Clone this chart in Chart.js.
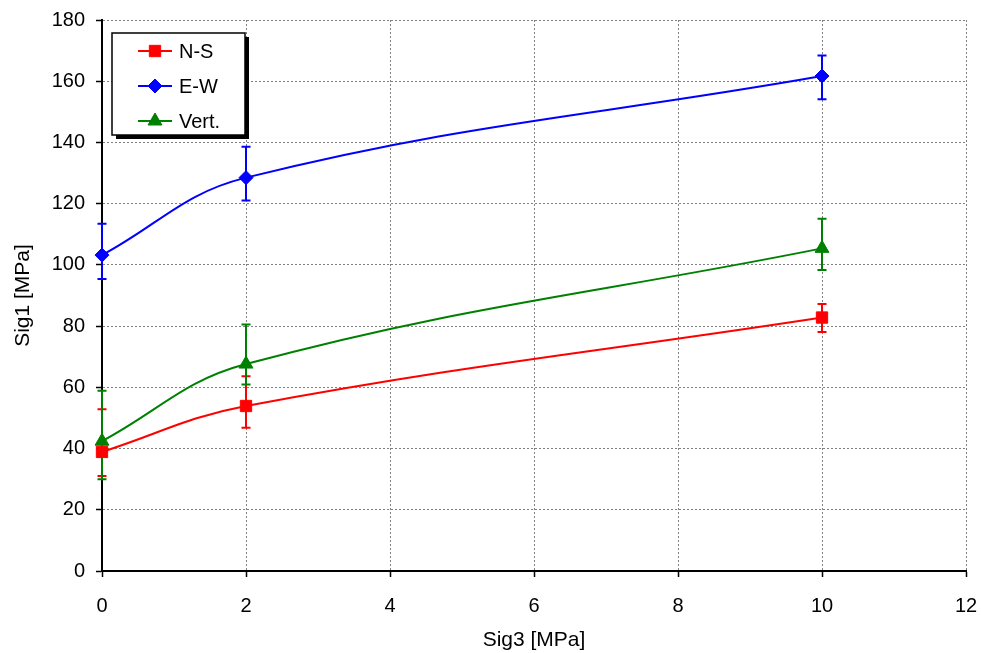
<!DOCTYPE html>
<html>
<head>
<meta charset="utf-8">
<script src="https://cdn.jsdelivr.net/npm/chart.js@4/dist/chart.umd.min.js"></script>
<style>
  html, body { margin: 0; padding: 0; background: #fff; overflow: hidden; }
  canvas { display: block; }
</style>
</head>
<body>
<canvas id="myChart" width="981" height="653"></canvas>
<script>
// hodnoty odčítané z grafu
const sig3 = [0, 2, 10];

const nsVals = [38.9, 53.9, 82.8];
const nsHi   = [52.8, 63.6, 87.2];
const nsLo   = [31.0, 46.8, 78.1];

const ewVals = [103.2, 128.5, 161.7];
const ewHi   = [113.4, 138.6, 168.4];
const ewLo   = [95.4, 121.0, 154.1];

const vertVals = [42.4, 67.6, 105.4];
const vertHi   = [58.9, 80.5, 115.1];
const vertLo   = [30.0, 60.9, 98.3];

const xTicks = [0, 2, 4, 6, 8, 10, 12];
const yTicks = [0, 20, 40, 60, 80, 100, 120, 140, 160, 180];

const fontName = "'Liberation Sans', Arial, sans-serif";

function body(xs, ys) {
    return xs.map((x, i) => ({ x: x, y: ys[i] }));
}

const series = [
    { label: "N-S",   vals: nsVals,   hi: nsHi,   lo: nsLo,   color: "#ff0000", style: "rect",    r: 8 },
    { label: "E-W",   vals: ewVals,   hi: ewHi,   lo: ewLo,   color: "#0000ff", style: "rectRot", r: 7 },
    { label: "Vert.", vals: vertVals, hi: vertHi, lo: vertLo, color: "#008000", style: "triangle", r: 8 }
];

// chybové úsečky
const errorBars = {
    id: "errorBars",
    beforeDatasetsDraw(chart) {
        const ctx = chart.ctx;
        const xs = chart.scales.x, ys = chart.scales.y;
        ctx.save();
        ctx.lineWidth = 2;
        series.forEach(s => {
            ctx.strokeStyle = s.color;
            sig3.forEach((x, i) => {
                const px = xs.getPixelForValue(x);
                const top = ys.getPixelForValue(s.hi[i]);
                const bot = ys.getPixelForValue(s.lo[i]);
                ctx.beginPath();
                ctx.moveTo(px, top); ctx.lineTo(px, bot);
                ctx.moveTo(px - 4.5, top); ctx.lineTo(px + 4.5, top);
                ctx.moveTo(px - 4.5, bot); ctx.lineTo(px + 4.5, bot);
                ctx.stroke();
            });
        });
        ctx.restore();
    }
};

// legenda v ráme so stieňom
const boxLegend = {
    id: "boxLegend",
    afterDraw(chart) {
        const ctx = chart.ctx;
        const x0 = 112, y0 = 33, w = 133, h = 102;
        ctx.save();
        ctx.fillStyle = "#000";
        ctx.fillRect(x0 + 4, y0 + 4, w, h);
        ctx.fillStyle = "#fff";
        ctx.fillRect(x0, y0, w, h);
        ctx.strokeStyle = "#000";
        ctx.lineWidth = 1.5;
        ctx.strokeRect(x0, y0, w, h);
        ctx.font = "20px " + fontName;
        ctx.textBaseline = "middle";
        series.forEach((s, i) => {
            const y = 51 + i * 35;
            ctx.strokeStyle = s.color;
            ctx.lineWidth = 2;
            ctx.beginPath();
            ctx.moveTo(138, y); ctx.lineTo(172, y);
            ctx.stroke();
            ctx.fillStyle = s.color;
            ctx.lineWidth = 1;
            Chart.helpers.drawPoint(ctx, { pointStyle: s.style, radius: s.r, rotation: 0, borderWidth: 1 }, 155, y);
            ctx.fillStyle = "#000";
            ctx.fillText(s.label, 179, y + 1);
        });
        ctx.restore();
    }
};

const gridColor = c => (c.tick && c.tick.value === 0 ? "rgba(0,0,0,0)" : "#808080");

const ctx = document.getElementById("myChart").getContext("2d");
const myChart = new Chart(ctx, {
    type: "scatter",
    data: {
        datasets: series.map(s => ({
            label: s.label,
            data: body(sig3, s.vals),
            showLine: true,
            tension: 0.4,
            borderColor: s.color,
            backgroundColor: s.color,
            borderWidth: 2,
            pointStyle: s.style,
            pointRadius: s.r,
            pointBorderWidth: 1,
            clip: false,
            fill: false
        }))
    },
    options: {
        responsive: false,
        devicePixelRatio: 1,
        animation: false,
        layout: { padding: { left: 0, right: 15, top: 20, bottom: 0 } },
        plugins: {
            legend: { display: false },
            tooltip: { enabled: false }
        },
        scales: {
            x: {
                type: "linear",
                min: 0, max: 12,
                afterBuildTicks: sc => { sc.ticks = xTicks.map(v => ({ value: v })); },
                afterFit: sc => { sc.height = 82; sc.paddingLeft = 0; sc.paddingRight = 0; },
                ticks: { color: "#000", font: { family: fontName, size: 20 }, padding: 17, maxRotation: 0 },
                grid: { color: gridColor, lineWidth: 1, tickLength: 6, tickColor: "#000", tickWidth: 1.5, tickBorderDash: [] },
                border: { color: "#000", width: 2, dash: [2, 2] },
                title: { display: true, text: "Sig3 [MPa]", color: "#000", font: { family: fontName, size: 21 }, padding: { top: 0, bottom: 0 } }
            },
            y: {
                type: "linear",
                min: 0, max: 180,
                afterBuildTicks: sc => { sc.ticks = yTicks.map(v => ({ value: v })); },
                afterFit: sc => { sc.width = 102; sc.paddingTop = 0; sc.paddingBottom = 0; },
                ticks: { color: "#000", font: { family: fontName, size: 20 }, padding: 11 },
                grid: { color: gridColor, lineWidth: 1, tickLength: 6, tickColor: "#000", tickWidth: 1.5, tickBorderDash: [] },
                border: { color: "#000", width: 2, dash: [2, 2] },
                title: { display: true, text: "Sig1 [MPa]", color: "#000", font: { family: fontName, size: 21 }, padding: { top: 11, bottom: 0 } }
            }
        }
    },
    plugins: [errorBars, boxLegend]
});
</script>
</body>
</html>
